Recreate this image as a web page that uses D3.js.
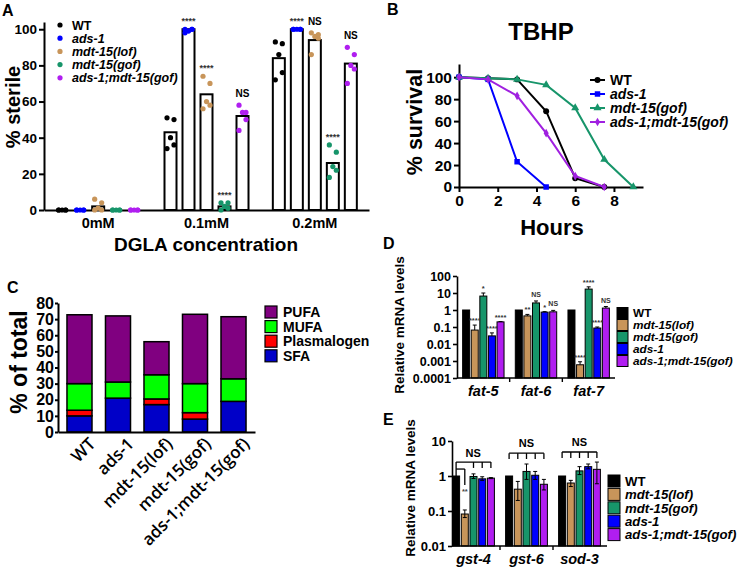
<!DOCTYPE html>
<html>
<head>
<meta charset="utf-8">
<script src="https://cdn.jsdelivr.net/npm/d3@7"></script>
<style>
  body { margin: 0; background: #fff; }
  svg { display: block; }
</style>
</head>
<body>
<script>
// ---- data ----
// panel A: % sterile on DGLA
const aGroups = ["0mM", "0.1mM", "0.2mM"];
const aGenos = ["WT", "ads-1", "mdt-15(lof)", "mdt-15(gof)", "ads-1;mdt-15(gof)"];
const aMeans = [[0, 0, 2, 0, 0], [43, 100, 64, 2, 52], [84, 100, 94, 26, 81]];
const aPoints = [
  [[0, 0, 0, 0, 0], [0, 0, 0, 0, 0], [6, 4, 1, 0, 0], [0, 0, 0, 0, 0], [0, 0, 0, 0, 0]],
  [[51, 50, 40, 36, 34], [100, 100, 99, 100, 98], [74, 70, 60, 58, 56], [4, 4, 2, 1, 0], [58, 54, 54, 50, 44]],
  [[93, 92, 86, 76, 72], [100, 100, 100, 100, 100], [98, 97, 96, 95, 86], [36, 32, 24, 22, 18], [90, 86, 80, 78, 70]]
];
const aSig = [["", "", "", "", ""], ["", "****", "****", "****", "NS"], ["", "****", "NS", "****", "NS"]];

// panel B: TBHP survival
const bNames = ["WT", "ads-1", "mdt-15(gof)", "ads-1;mdt-15(gof)"];
const bHours = [0, 1.5, 3, 4.5, 6, 7.5, 9];
const survWT = [100, 99, 98, 69, 8, 0];
const survAds = [100, 98, 23, 0];
const survGof = [100, 99, 98, 93, 72, 25, 0];
const survAdsGof = [100, 98, 83, 49, 10, 0];

// panel C: lipid classes
const cNames = ["WT", "ads-1", "mdt-15(lof)", "mdt-15(gof)", "ads-1;mdt-15(gof)"];
const cClasses = ["SFA", "Plasmalogen", "MUFA", "PUFA"];
const cSFA = [10, 21, 17, 8, 19];
const cPlas = [3.5, 0, 3.5, 4, 0];
const cMUFA = [16.5, 10, 15, 18, 14];
const cPUFA = [42.7, 41, 20.5, 43, 38.5];

// panel D: fat genes qPCR
const qGenos = ["WT", "mdt-15(lof)", "mdt-15(gof)", "ads-1", "ads-1;mdt-15(gof)"];
const dGenes = ["fat-5", "fat-6", "fat-7"];
const dMeans = [[1, 0.066, 6.6, 0.03, 0.2], [1, 0.45, 2.6, 0.75, 0.78], [1, 0.0006, 17, 0.087, 1.3]];
const dUpper = [[1, 0.13, 10, 0.045, 0.21], [1, 0.55, 3.4, 0.8, 0.95], [1, 0.0009, 23, 0.1, 1.6]];
const dSig = [["", "****", "*", "****", "****"], ["", "**", "NS", "*", "NS"], ["", "****", "****", "****", "NS"]];

// panel E: stress genes qPCR
const eGenes = ["gst-4", "gst-6", "sod-3"];
const eMeans = [[1, 0.082, 0.97, 0.83, 0.87], [1, 0.42, 1.35, 1.05, 0.58], [1, 0.63, 1.4, 1.85, 1.55]];
const eLow = [[1, 0.065, 0.85, 0.75, 0.84], [1, 0.2, 0.8, 0.8, 0.4], [1, 0.5, 1.1, 1.6, 0.6]];
const eHigh = [[1, 0.107, 1.15, 0.95, 0.9], [1, 0.7, 2.2, 1.35, 0.8], [1, 0.75, 1.85, 2.2, 2.5]];

// colours per genotype
const genoColor = {
  "WT": "#000000",
  "ads-1": "#0000ff",
  "mdt-15(lof)": "#c8955a",
  "mdt-15(gof)": "#17956a",
  "ads-1;mdt-15(gof)": "#b01ef0"
};
const lipidColor = { SFA: "#0000c8", Plasmalogen: "#ff0000", MUFA: "#00ff00", PUFA: "#800080" };

const FONT = "'Liberation Sans', Arial, Helvetica, sans-serif";

const svg = d3.select("body").append("svg")
  .attr("width", 741)
  .attr("height", 568)
  .style("font-family", FONT);

svg.append("rect").attr("width", 741).attr("height", 568).attr("fill", "#fff");

function styleAxis(g, size, sw) {
  g.selectAll("path, line").attr("stroke", "#000").attr("stroke-width", sw);
  g.selectAll("text").attr("font-size", size + "px").attr("font-weight", "bold")
    .attr("fill", "#000").attr("font-family", FONT);
}

function genoLabel(sel, name) {
  sel.text(name).attr("font-style", name === "WT" ? "normal" : "italic");
}

function panelLetter(t, x, y) {
  svg.append("text").attr("x", x).attr("y", y).text(t)
    .attr("font-size", "16px").attr("font-weight", "bold");
}

// =================== Panel A ===================
{
  const g = svg.append("g");
  const xA = d3.scaleBand().domain(aGroups).range([44, 369]);
  const xIn = d3.scalePoint().domain(aGenos).range([-36, 36]);
  const yA = d3.scaleLinear().domain([0, 104]).range([210, 22]);
  const cx = (gi, k) => xA(aGroups[gi]) + xA.bandwidth() / 2 + xIn(aGenos[k]);

  g.append("g").attr("transform", "translate(44,0)")
    .call(d3.axisLeft(yA).tickValues([0, 20, 40, 60, 80, 100]).tickSize(5).tickSizeOuter(0).tickPadding(2))
    .call(a => styleAxis(a, 13.5, 2));

  g.append("g").attr("transform", "translate(0,210)")
    .call(d3.axisBottom(xA).tickSize(0).tickPadding(8))
    .call(a => styleAxis(a, 14.5, 2));

  const jitter = [-3.5, 3.5, 0, 3.5, -3.5];

  aGroups.forEach((grp, gi) => {
    aGenos.forEach((geno, k) => {
      const x = cx(gi, k);
      const m = aMeans[gi][k];
      g.append("rect")
        .attr("x", x - 6).attr("width", 12)
        .attr("y", yA(m)).attr("height", yA(0) - yA(m))
        .attr("fill", "#fff").attr("stroke", "#000").attr("stroke-width", 2);
      g.selectAll(null).data(aPoints[gi][k]).enter().append("circle")
        .attr("cx", (d, i) => x + jitter[i])
        .attr("cy", d => yA(d))
        .attr("r", 2.6)
        .attr("fill", genoColor[geno]);
      const s = aSig[gi][k];
      if (s) {
        const top = yA(d3.max(aPoints[gi][k]));
        g.append("text").attr("x", x).attr("y", s === "NS" ? top - 8 : top - 5)
          .attr("text-anchor", "middle")
          .attr("font-size", s === "NS" ? "10px" : "9px").attr("font-weight", "bold")
          .attr("fill", s === "NS" ? "#000" : "#333")
          .text(s);
      }
    });
  });

  // legend
  const lg = g.append("g");
  aGenos.forEach((geno, k) => {
    const y = 25 + k * 13.2;
    lg.append("circle").attr("cx", 60).attr("cy", y).attr("r", 2.6).attr("fill", genoColor[geno]);
    lg.append("text").attr("x", 72).attr("y", y).attr("dy", "0.36em")
      .attr("font-size", "12.5px").attr("font-weight", "bold")
      .call(t => genoLabel(t, geno));
  });

  g.append("text").attr("transform", "translate(20,107) rotate(-90)")
    .attr("text-anchor", "middle").attr("font-size", "20px").attr("font-weight", "bold")
    .text("% sterile");
  g.append("text").attr("x", 206).attr("y", 251)
    .attr("text-anchor", "middle").attr("font-size", "19px").attr("font-weight", "bold")
    .text("DGLA concentration");

  panelLetter("A", 2, 16);
}

// =================== Panel B ===================
{
  const g = svg.append("g");
  const xB = d3.scaleLinear().domain([0, 9.5]).range([459, 643]);
  const yB = d3.scaleLinear().domain([0, 112]).range([187, 64]);

  g.append("g").attr("transform", "translate(459,0)")
    .call(d3.axisLeft(yB).tickValues([0, 20, 40, 60, 80, 100]).tickSize(5).tickSizeOuter(0).tickPadding(2))
    .call(a => styleAxis(a, 15.5, 2));
  g.append("g").attr("transform", "translate(0,187)")
    .call(d3.axisBottom(xB).tickValues([0, 2, 4, 6, 8]).tickSize(5).tickSizeOuter(0))
    .call(a => styleAxis(a, 15.5, 2));

  const series = [
    { name: "WT", vals: survWT, color: "#000000", sym: d3.symbolCircle, size: 28 },
    { name: "ads-1", vals: survAds, color: "#0000ff", sym: d3.symbolSquare, size: 30 },
    { name: "mdt-15(gof)", vals: survGof, color: "#17956a", sym: d3.symbolTriangle, size: 28 },
    { name: "ads-1;mdt-15(gof)", vals: survAdsGof, color: "#a020e0", sym: d3.symbolDiamond, size: 22 }
  ];
  const line = d3.line().x(d => xB(d[0])).y(d => yB(d[1]));

  series.forEach(s => {
    const pts = s.vals.map((v, i) => [bHours[i], v]);
    g.append("path").datum(pts).attr("d", line)
      .attr("fill", "none").attr("stroke", s.color).attr("stroke-width", 2);
    g.selectAll(null).data(pts).enter().append("path")
      .attr("transform", d => `translate(${xB(d[0])},${yB(d[1])})`)
      .attr("d", d3.symbol().type(s.sym).size(s.size))
      .attr("fill", s.color);
  });

  // legend
  series.forEach((s, k) => {
    const y = 80 + k * 14;
    g.append("line").attr("x1", 590).attr("x2", 605).attr("y1", y).attr("y2", y)
      .attr("stroke", s.color).attr("stroke-width", 2);
    g.append("path").attr("transform", `translate(597.5,${y})`)
      .attr("d", d3.symbol().type(s.sym).size(s.size)).attr("fill", s.color);
    g.append("text").attr("x", 610).attr("y", y).attr("dy", "0.36em")
      .attr("font-size", "14px").attr("font-weight", "bold")
      .call(t => genoLabel(t, s.name));
  });

  g.append("text").attr("x", 541).attr("y", 40).attr("text-anchor", "middle")
    .attr("font-size", "24px").attr("font-weight", "bold").text("TBHP");
  g.append("text").attr("transform", "translate(422,122) rotate(-90)")
    .attr("text-anchor", "middle").attr("font-size", "21.5px").attr("font-weight", "bold")
    .text("% survival");
  g.append("text").attr("x", 552).attr("y", 235).attr("text-anchor", "middle")
    .attr("font-size", "22px").attr("font-weight", "bold").text("Hours");

  panelLetter("B", 387, 15);
}

// =================== Panel C ===================
{
  const g = svg.append("g");
  const xC = d3.scaleBand().domain(cNames).range([58, 255]).paddingInner(0.35).paddingOuter(0.233);
  const yC = d3.scaleLinear().domain([0, 80]).range([432, 303]);

  const rows = cNames.map((n, i) => ({
    name: n, SFA: cSFA[i], Plasmalogen: cPlas[i], MUFA: cMUFA[i], PUFA: cPUFA[i]
  }));
  const stacked = d3.stack().keys(cClasses)(rows);

  stacked.forEach(layer => {
    g.selectAll(null).data(layer).enter().append("rect")
      .attr("x", d => xC(d.data.name))
      .attr("width", xC.bandwidth())
      .attr("y", d => yC(d[1]))
      .attr("height", d => yC(d[0]) - yC(d[1]))
      .attr("fill", lipidColor[layer.key])
      .attr("stroke", "#000").attr("stroke-width", 1.5);
  });

  g.append("g").attr("transform", "translate(58,0)")
    .call(d3.axisLeft(yC).tickValues(d3.range(0, 81, 10)).tickSize(3).tickSizeOuter(0).tickPadding(1))
    .call(a => styleAxis(a, 16, 2));
  g.append("g").attr("transform", "translate(0,432)")
    .call(d3.axisBottom(xC).tickSize(0).tickFormat(""))
    .call(a => styleAxis(a, 16, 2));

  cNames.forEach(n => {
    const x = xC(n) + xC.bandwidth() / 2 + 17;
    g.append("text").attr("transform", `translate(${x},445) rotate(-45)`)
      .attr("text-anchor", "end").attr("font-size", "17px").attr("font-weight", "600")
      .attr("font-family", "'Open Sans', Arial, sans-serif")
      .text(n);
  });

  // legend, top to bottom PUFA..SFA
  cClasses.slice().reverse().forEach((c, k) => {
    const y = 312 + k * 14.6;
    g.append("rect").attr("x", 265).attr("y", y - 6).attr("width", 12).attr("height", 12)
      .attr("fill", lipidColor[c]).attr("stroke", "#000").attr("stroke-width", 1.2);
    g.append("text").attr("x", 283).attr("y", y).attr("dy", "0.36em")
      .attr("font-size", "14px").attr("font-weight", "bold").text(c);
  });

  g.append("text").attr("transform", "translate(27,362) rotate(-90)")
    .attr("text-anchor", "middle").attr("font-size", "23px").attr("font-weight", "bold")
    .text("% of total");

  panelLetter("C", 7, 293);
}

// =================== qPCR helper (panels D, E) ===================
function qpcrPanel(opts) {
  const g = svg.append("g");
  const { genes, means, x0, x1, bandRange, y, tickVals, tickFmt } = opts;
  const xG = d3.scaleBand().domain(genes).range(bandRange);
  const xIn = d3.scalePoint().domain(qGenos).range([-opts.spread, opts.spread]);
  const bw = 7;
  const cx = (gi, k) => xG(genes[gi]) + xG.bandwidth() / 2 + xIn(qGenos[k]);

  // upper error bars
  genes.forEach((gene, gi) => {
    qGenos.forEach((geno, k) => {
      if (k === 0) return;
      const x = cx(gi, k);
      const hi = opts.high[gi][k];
      g.append("line").attr("x1", x).attr("x2", x).attr("y1", y(hi)).attr("y2", y(means[gi][k]))
        .attr("stroke", "#000").attr("stroke-width", 1);
      g.append("line").attr("x1", x - 2).attr("x2", x + 2).attr("y1", y(hi)).attr("y2", y(hi))
        .attr("stroke", "#000").attr("stroke-width", 1);
    });
  });

  genes.forEach((gene, gi) => {
    qGenos.forEach((geno, k) => {
      const x = cx(gi, k);
      const m = means[gi][k];
      g.append("rect").attr("x", x - bw / 2).attr("width", bw)
        .attr("y", y(m)).attr("height", y.range()[0] - y(m))
        .attr("fill", genoColor[geno])
        .attr("stroke", "#000").attr("stroke-width", 1);
    });
  });

  // lower half of the error bar runs inside the bar
  if (opts.low) {
    genes.forEach((gene, gi) => {
      qGenos.forEach((geno, k) => {
        if (k === 0) return;
        const x = cx(gi, k);
        const lo = opts.low[gi][k];
        g.append("line").attr("x1", x).attr("x2", x)
          .attr("y1", y(means[gi][k])).attr("y2", y(lo))
          .attr("stroke", "#000").attr("stroke-width", 1);
        g.append("line").attr("x1", x - 2).attr("x2", x + 2).attr("y1", y(lo)).attr("y2", y(lo))
          .attr("stroke", "#000").attr("stroke-width", 1);
      });
    });
  }

  // axes
  g.append("g").attr("transform", `translate(${x0},0)`)
    .call(d3.axisLeft(y).tickValues(tickVals).tickFormat(tickFmt).tickSize(4).tickSizeOuter(0).tickPadding(2))
    .call(a => styleAxis(a, opts.tickFont, 1.6));
  const base = y.range()[0];
  g.append("line").attr("x1", x0).attr("x2", x1).attr("y1", base).attr("y2", base)
    .attr("stroke", "#000").attr("stroke-width", 1.6);
  genes.forEach((gene, gi) => {
    if (gi > 0) {
      const bx = xG(gene);
      g.append("line").attr("x1", bx).attr("x2", bx).attr("y1", base).attr("y2", base + 4)
        .attr("stroke", "#000").attr("stroke-width", 1.4);
    }
    g.append("text").attr("x", xG(gene) + xG.bandwidth() / 2).attr("y", opts.labelY)
      .attr("text-anchor", "middle").attr("font-size", "14.5px").attr("font-weight", "bold")
      .attr("font-style", "italic").text(gene);
  });

  // legend
  qGenos.forEach((geno, k) => {
    const ly = opts.legY + k * opts.legStep;
    g.append("rect").attr("x", opts.legX).attr("y", ly - opts.legSq / 2)
      .attr("width", opts.legSq).attr("height", opts.legSq)
      .attr("fill", genoColor[geno]).attr("stroke", "#000").attr("stroke-width", 1);
    g.append("text").attr("x", opts.legX + opts.legSq + 5).attr("y", ly).attr("dy", "0.36em")
      .attr("font-size", opts.legFont + "px").attr("font-weight", "bold")
      .call(t => genoLabel(t, geno));
  });

  g.append("text").attr("transform", `translate(${opts.titleX},${opts.titleY}) rotate(-90)`)
    .attr("text-anchor", "middle").attr("font-size", "13.5px").attr("font-weight", "bold")
    .text("Relative mRNA levels");

  return { g, cx, y };
}

// =================== Panel D ===================
{
  const yD = d3.scaleLog().domain([0.0001, 100]).range([378, 276]);
  const p = qpcrPanel({
    genes: dGenes, means: dMeans, high: dUpper, low: null,
    x0: 457, x1: 615, bandRange: [457, 615], spread: 17.2, y: yD,
    tickVals: [0.0001, 0.001, 0.01, 0.1, 1, 10, 100], tickFmt: d => String(d),
    tickFont: 12.5, labelY: 396,
    legX: 617, legY: 313, legStep: 12, legSq: 11, legFont: 11.8,
    titleX: 404, titleY: 325
  });
  dGenes.forEach((gene, gi) => {
    qGenos.forEach((geno, k) => {
      const s = dSig[gi][k];
      if (!s) return;
      p.g.append("text").attr("x", p.cx(gi, k)).attr("y", yD(dUpper[gi][k]) - (s === "NS" ? 4 : 2))
        .attr("text-anchor", "middle").attr("font-size", s === "NS" ? "7px" : "7.5px")
        .attr("font-weight", "bold").attr("fill", "#333").text(s);
    });
  });
  panelLetter("D", 383, 249);
}

// =================== Panel E ===================
{
  const yE = d3.scaleLog().domain([0.01, 10]).range([546, 441]);
  const p = qpcrPanel({
    genes: eGenes, means: eMeans, high: eHigh, low: eLow,
    x0: 452, x1: 607, bandRange: [447, 606], spread: 17.4, y: yE,
    tickVals: [0.01, 0.1, 1, 10], tickFmt: d => String(d),
    tickFont: 13, labelY: 564,
    legX: 608, legY: 481, legStep: 13.4, legSq: 12, legFont: 13.2,
    titleX: 415, titleY: 488
  });
  const g = p.g;
  const ln = (x1, y1, x2, y2) => g.append("line")
    .attr("x1", x1).attr("y1", y1).attr("x2", x2).attr("y2", y2)
    .attr("stroke", "#000").attr("stroke-width", 1.3);
  const nsText = (x, y) => g.append("text").attr("x", x).attr("y", y)
    .attr("text-anchor", "middle").attr("font-size", "11px").attr("font-weight", "bold").text("NS");

  // gst-4 brackets: WT vs gof/ads-1/ads-1;gof, and WT vs lof
  {
    const xs = qGenos.map((d, k) => p.cx(0, k));
    const yTop = yE(2.5), yDrop = yE(1.7);
    ln(xs[0], yTop, xs[4], yTop);
    ln(xs[0], yTop, xs[0], yE(1));
    [2, 3, 4].forEach(k => ln(xs[k], yTop, xs[k], yDrop));
    const y2 = yE(1.58);
    ln(xs[0], y2, xs[1], y2);
    ln(xs[1], y2, xs[1], yE(0.55));
    g.append("text").attr("x", xs[1]).attr("y", yE(0.3))
      .attr("text-anchor", "middle").attr("font-size", "7.5px").attr("font-weight", "bold")
      .attr("fill", "#444").text("**");
    nsText((xs[1] + xs[2]) / 2 + 4, yTop - 5);
  }
  // gst-6 and sod-3 brackets: WT vs all
  [[1, 4.5, 3.06], [2, 4.85, 3.27]].forEach(([gi, top, drop]) => {
    const xs = qGenos.map((d, k) => p.cx(gi, k));
    ln(xs[0], yE(top), xs[4], yE(top));
    xs.forEach(x => ln(x, yE(top), x, yE(drop)));
    nsText((xs[0] + xs[4]) / 2, yE(top) - 6);
  });

  panelLetter("E", 383, 425);
}
</script>
</body>
</html>
